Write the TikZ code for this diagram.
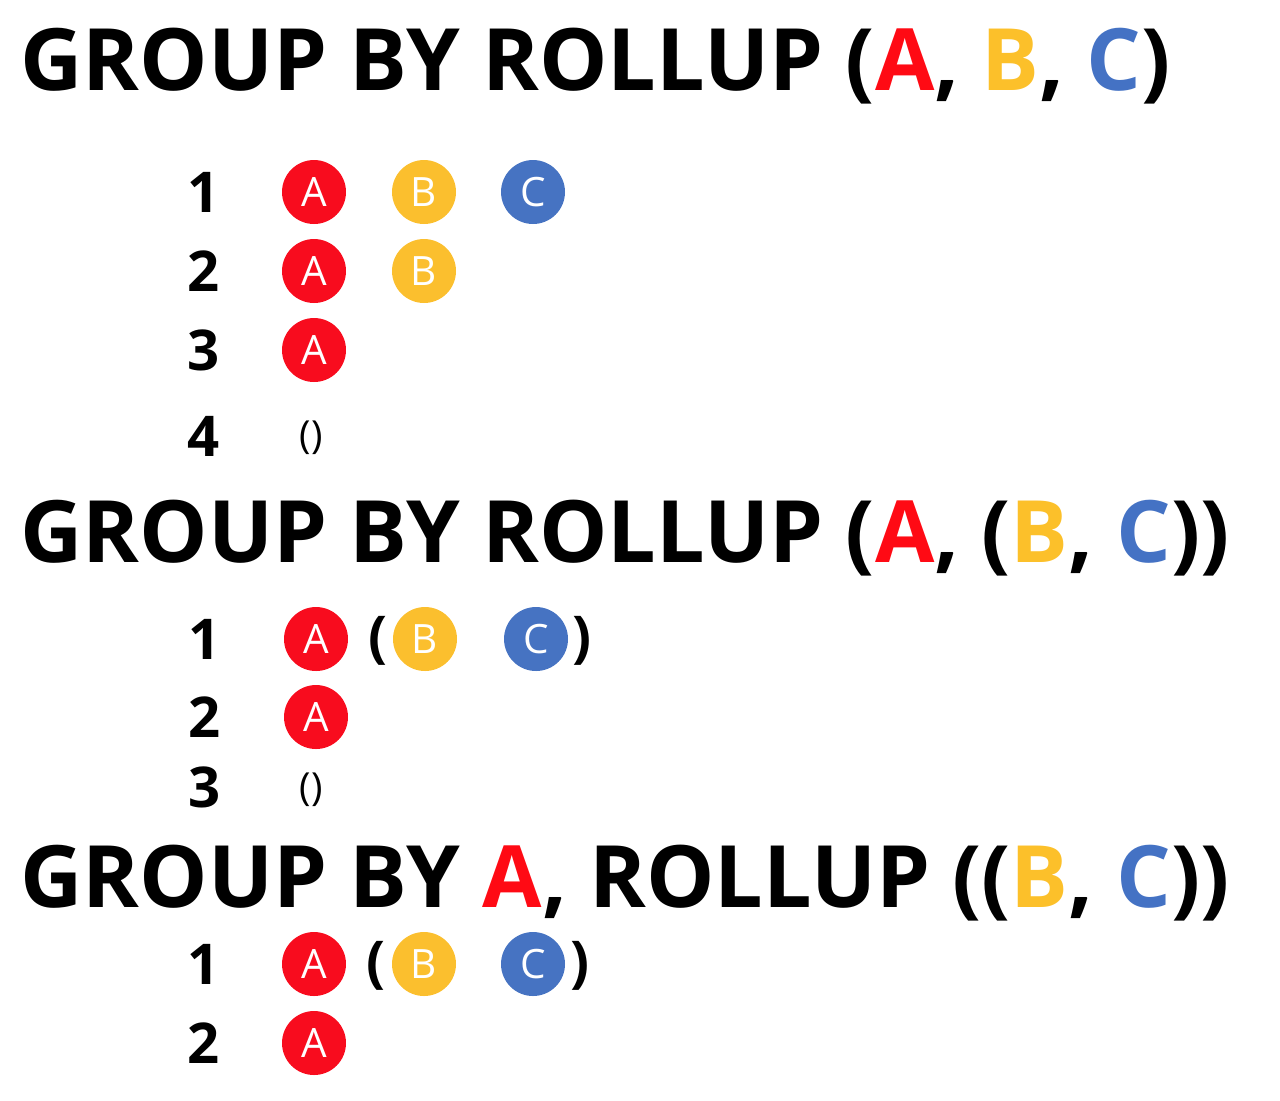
\documentclass[tikz,border=0pt]{standalone}
\usepackage{fontspec}
\setmainfont{Open Sans}
\definecolor{colA}{HTML}{F80C1E}
\definecolor{colB}{HTML}{FBBF2E}
\definecolor{colC}{HTML}{4673C2}
\definecolor{txtA}{HTML}{FF0A14}
\definecolor{txtB}{HTML}{FCC02A}
\definecolor{txtC}{HTML}{4472C4}

\begin{document}
\begin{tikzpicture}[x=0.02cm,y=-0.02cm,
  title/.style={anchor=base west,inner sep=0,font=\bfseries\fontsize{49}{49}\selectfont},
  num/.style={inner sep=0,font=\bfseries\fontsize{32}{32}\selectfont},
  ball/.style={circle,fill=#1,text=white,minimum size=1.28cm,inner sep=0,font=\fontsize{23}{23}\selectfont},
  nothing/.style={inner sep=0,font=\fontsize{22}{22}\selectfont}]

\useasboundingbox (0,0) rectangle (1280,1100);

% ROLLUP (A, B, C)
\node[title] (t1) at (20,90) {GROUP BY ROLLUP ({\color{txtA}A}, {\color{txtB}B}, {\color{txtC}C})};
\node[num] (n11) at (204,192) {1};
\node[num] (n12) at (204,271) {2};
\node[num] (n13) at (204,350) {3};
\node[num] (n14) at (204,436) {4};
\node[ball=colA] (a11) at (314,192) {A};
\node[ball=colB] (b11) at (424,192) {B};
\node[ball=colC] (c11) at (533,192) {C};
\node[ball=colA] (a12) at (314,271) {A};
\node[ball=colB] (b12) at (424,271) {B};
\node[ball=colA] (a13) at (314,350) {A};
\node[nothing] (e14) at (311,438) {()};

% ROLLUP (A, (B, C))
\node[title] (t2) at (20,562) {GROUP BY ROLLUP ({\color{txtA}A}, ({\color{txtB}B}, {\color{txtC}C}))};
\node[num] (n21) at (205,639) {1};
\node[num] (n22) at (205,717) {2};
\node[num] (n23) at (205,787) {3};
\node[ball=colA] (a21) at (316,639) {A};
\node[num] (l21) at (378,641) {(};
\node[ball=colB] (b21) at (425,639) {B};
\node[ball=colC] (c21) at (536,639) {C};
\node[num] (r21) at (582,641) {)};
\node[ball=colA] (a22) at (316,717) {A};
\node[nothing] (e23) at (311,790) {()};

% A, ROLLUP ((B, C))
\node[title] (t3) at (20,907) {GROUP BY {\color{txtA}A}, ROLLUP (({\color{txtB}B}, {\color{txtC}C}))};
\node[num] (n31) at (204,964) {1};
\node[num] (n32) at (204,1043) {2};
\node[ball=colA] (a31) at (314,964) {A};
\node[num] (l31) at (376,966) {(};
\node[ball=colB] (b31) at (424,964) {B};
\node[ball=colC] (c31) at (533,964) {C};
\node[num] (r31) at (580,966) {)};
\node[ball=colA] (a32) at (314,1043) {A};

\end{tikzpicture}
\end{document}
